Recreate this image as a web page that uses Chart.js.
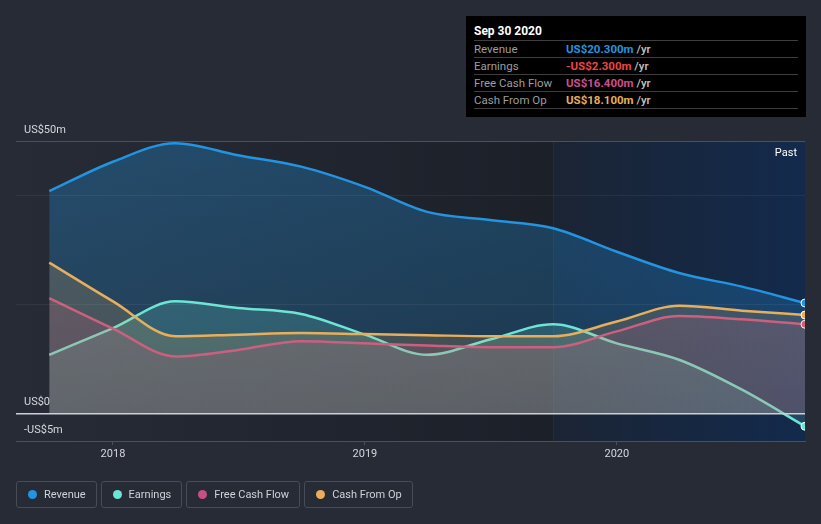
<!DOCTYPE html>
<html>
<head>
<meta charset="utf-8">
<script src="https://cdn.jsdelivr.net/npm/chart.js@4.4.0/dist/chart.umd.min.js"></script>
<style>
html,body{margin:0;padding:0;background:#262b36;width:821px;height:524px;overflow:hidden;font-family:Roboto,"Noto Sans",sans-serif;}
#wrap{position:relative;width:821px;height:524px;}
#c{position:absolute;left:0;top:0;}
#tip{position:absolute;left:466px;top:16px;width:340px;height:101px;background:#000;}
#tip .title{position:absolute;left:8px;top:8px;height:14px;line-height:14px;font-size:12px;font-weight:bold;color:#fff;}
#tip .sep{position:absolute;left:8px;width:324px;height:1px;background:#3e3e3e;}
#tip .row{position:absolute;left:8px;width:324px;height:16px;line-height:16px;font-size:11.5px;}
#tip .lab{position:absolute;left:0;color:#9d9d9d;}
#tip .val{position:absolute;left:92px;font-weight:bold;white-space:nowrap;}
#tip .unit{color:#c4c4c4;font-weight:500;}
#legend{position:absolute;left:16px;top:481px;display:flex;}
.li{display:flex;align-items:center;height:25px;border:1px solid #474c57;border-radius:3px;padding:0 10px 0 11px;margin-right:4px;font-size:11px;color:#cfd2d7;}
.dot{width:9px;height:9px;border-radius:50%;margin-right:7px;}
</style>
</head>
<body>
<div id="wrap">
<canvas id="c" width="821" height="524"></canvas>
<div id="tip"></div>
<div id="legend"></div>
</div>
<script>
// ---- data ----
const periods = ['Sep 2017','Dec 2017','Mar 2018','Jun 2018','Sep 2018','Dec 2018','Mar 2019','Jun 2019','Sep 2019','Dec 2019','Mar 2020','Jun 2020','Sep 2020'];
const periodYears = [2017.747, 2018.0, 2018.247, 2018.496, 2018.747, 2019.0, 2019.247, 2019.496, 2019.747, 2020.0, 2020.247, 2020.497, 2020.747];
const revenue  = [40.8, 46.2, 49.6, 47.4, 45.3, 41.6, 37.0, 35.5, 34.0, 29.7, 25.8, 23.3, 20.3];
const earnings = [10.8, 15.7, 20.6, 19.4, 18.3, 14.5, 10.8, 13.6, 16.4, 12.9, 9.9, 4.4, -2.3];
const freeCashFlow = [21.2, 15.6, 10.5, 11.7, 13.3, 12.9, 12.5, 12.2, 12.2, 15.1, 17.9, 17.3, 16.4];
const cashFromOp   = [27.7, 20.6, 14.2, 14.5, 14.8, 14.6, 14.4, 14.2, 14.2, 16.9, 19.8, 18.9, 18.1];
const seriesNames = ['Revenue','Earnings','Free Cash Flow','Cash From Op'];
const yTickValues = [-5, 0, 20, 40, 50];
const yTickLabels = {'-5':'-US$5m','0':'US$0','50':'US$50m'};
const xTickValues = [2018, 2019, 2020];
const pastStartYear = 2019.747;
const tooltipTitle = 'Sep 30 2020';

// ---- styles ----
const lineColors = ['#2394df','#6ce5d5','#c64f84','#e8ae5c'];
const fillRGB = ['35,148,223','108,229,213','198,79,132','232,174,92'];
const fillAlpha = [[0.32,0.18],[0.25,0.15],[0.22,0.15],[0.22,0.15]];
const valueColors = ['#2394df','#ee4444','#cc4f8c','#e8ae5c'];
const FONT = 'Roboto, "Noto Sans", sans-serif';

function vgrad(i){
  return (ctx) => {
    const ch = ctx.chart, a = ch.chartArea;
    const [t,b] = fillAlpha[i];
    if(!a) return `rgba(${fillRGB[i]},${t})`;
    const g = ch.ctx.createLinearGradient(0,a.top,0,a.bottom);
    g.addColorStop(0,`rgba(${fillRGB[i]},${t})`);
    g.addColorStop(1,`rgba(${fillRGB[i]},${b})`);
    return g;
  };
}
const allSeries = [revenue, earnings, freeCashFlow, cashFromOp];
const drawOrder = [3,2,1,0];
const datasets = allSeries.map((arr,i)=>({
  label: seriesNames[i],
  data: arr.map((v,k)=>({x: periodYears[k], y: v})),
  borderColor: lineColors[i],
  backgroundColor: vgrad(i),
  fill: 'origin',
  borderWidth: 2.5,
  cubicInterpolationMode: 'monotone',
  pointRadius: (c)=> c.dataIndex === arr.length-1 ? 4 : 0,
  pointBackgroundColor: lineColors[i],
  pointBorderColor: '#ffffff',
  pointBorderWidth: 1,
  order: drawOrder[i]
}));

const bgPlugin = {
  id:'bg',
  beforeDraw(chart){
    const {ctx, chartArea:a, scales:{x}} = chart;
    const px = x.getPixelForValue(pastStartYear);
    ctx.save();
    let g = ctx.createLinearGradient(a.left,0,px,0);
    g.addColorStop(0,'#262b36'); g.addColorStop(1,'#1c2029');
    ctx.fillStyle = g; ctx.fillRect(a.left,a.top,px-a.left,a.bottom-a.top);
    g = ctx.createLinearGradient(px,0,a.right,0);
    g.addColorStop(0,'#1b2434'); g.addColorStop(1,'#132a4c');
    ctx.fillStyle = g; ctx.fillRect(px,a.top,a.right-px,a.bottom-a.top);
    ctx.strokeStyle = '#1a2f4d'; ctx.lineWidth = 1;
    ctx.beginPath(); ctx.moveTo(Math.round(px)+0.5,a.top); ctx.lineTo(Math.round(px)+0.5,a.bottom); ctx.stroke();
    ctx.restore();
  },
  afterDraw(chart){
    const {ctx, chartArea:a} = chart;
    ctx.save();
    ctx.font = '11px ' + FONT;
    ctx.fillStyle = '#ffffff';
    ctx.textAlign = 'right'; ctx.textBaseline = 'middle';
    ctx.fillText('Past', a.right-8, a.top+12);
    ctx.restore();
  }
};

new Chart(document.getElementById('c'), {
  type:'line',
  data:{datasets},
  plugins:[bgPlugin],
  options:{
    responsive:false, animation:false,
    layout:{padding:{top:141,left:16,right:16,bottom:63}},
    plugins:{legend:{display:false},tooltip:{enabled:false}},
    scales:{
      x:{
        type:'linear', min:2017.615, max:periodYears[periodYears.length-1],
        afterBuildTicks:(s)=>{s.ticks = xTickValues.map(v=>({value:v}));},
        afterFit:(s)=>{s.height = 20;},
        ticks:{callback:(v)=>String(v), color:'#d5d7db', font:{size:11,family:FONT}, padding:3, maxRotation:0, autoSkip:false},
        grid:{drawOnChartArea:false, drawTicks:true, tickLength:4, color:'#4b505b'},
        border:{display:true, color:'#4b505b'}
      },
      y:{
        type:'linear', min:-5, max:50, position:'left',
        afterBuildTicks:(s)=>{s.ticks = yTickValues.map(v=>({value:v}));},
        afterFit:(s)=>{s.width = 0;},
        ticks:{mirror:true, padding:8, labelOffset:-11, z:1, color:'#d5d7db', font:{size:11,family:FONT},
               callback:(v)=> yTickLabels[String(v)] || ''},
        grid:{drawTicks:false, z:1,
              color:(c)=>{const v=c.tick&&c.tick.value; if(v===0) return '#cdd0d6'; if(v===50||v===-5) return '#4b505b'; return 'rgba(255,255,255,0.06)';},
              lineWidth:(c)=> (c.tick&&c.tick.value===0)?1.5:1},
        border:{display:false}
      }
    }
  }
});

// ---- tooltip box ----
const tip = document.getElementById('tip');
function fmt(v){ return (v<0?'-':'') + 'US$' + Math.abs(v).toFixed(3) + 'm'; }
let html = `<div class="title">${tooltipTitle}</div>`;
for(let k=0;k<5;k++) html += `<div class="sep" style="top:${24+k*17}px"></div>`;
allSeries.forEach((arr,i)=>{
  html += `<div class="row" style="top:${25+i*17}px"><span class="lab">${seriesNames[i]}</span><span class="val" style="color:${valueColors[i]}">${fmt(arr[arr.length-1])} <span class="unit">/yr</span></span></div>`;
});
tip.innerHTML = html;

// ---- legend ----
const lg = document.getElementById('legend');
seriesNames.forEach((n,i)=>{
  const d = document.createElement('div'); d.className='li';
  d.innerHTML = `<span class="dot" style="background:${lineColors[i]}"></span><span>${n}</span>`;
  lg.appendChild(d);
});
</script>
</body>
</html>
